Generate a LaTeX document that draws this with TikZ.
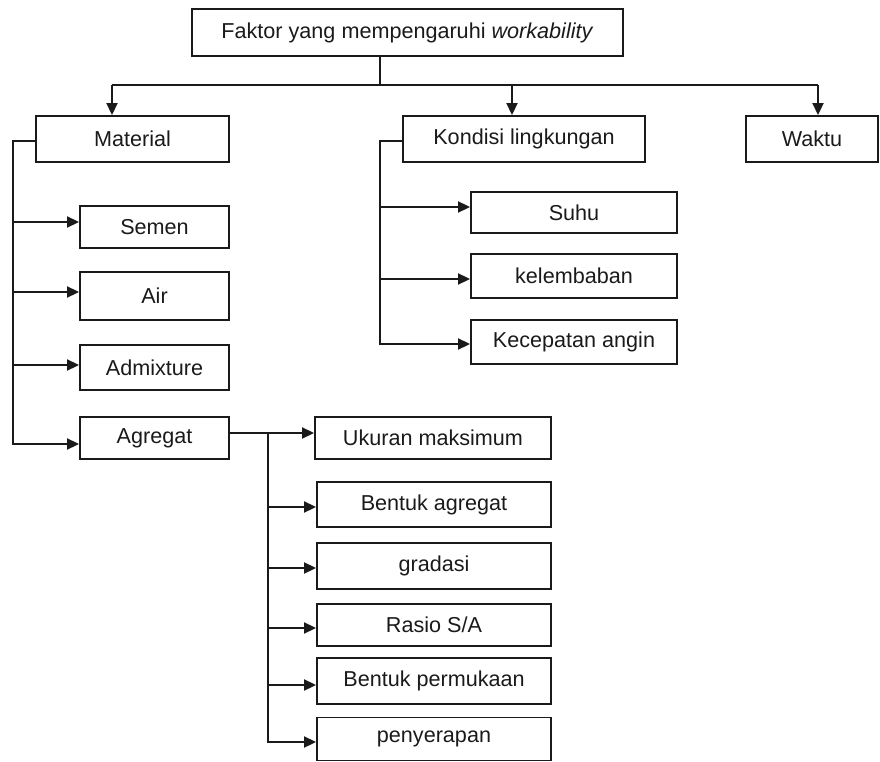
\documentclass[tikz,border=0pt]{standalone}
\usepackage{fontspec}
\setmainfont{Liberation Sans}
\usetikzlibrary{arrows.meta}
\definecolor{ink}{HTML}{1A1A1A}
\begin{document}
\begin{tikzpicture}[x=1pt,y=-1pt,
  box/.style={draw=ink,line width=1.9pt,inner sep=0pt,text=ink,
    font=\fontsize{21.6}{26}\selectfont},
  conn/.style={draw=ink,line width=1.9pt},
  arr/.style={conn,-{Triangle[length=12pt,width=11pt]}}]
\useasboundingbox (0,0) rectangle (880,762);
% boxes
\node[box,minimum width=431pt,minimum height=47pt] (top) at (407.5,32.5) {Faktor yang mempengaruhi \textit{workability}};
\node[box,minimum width=193pt,minimum height=46pt] (mat) at (132.5,139) {Material};
\node[box,minimum width=242pt,minimum height=46pt] (kon) at (524,139) {Kondisi lingkungan};
\node[box,minimum width=132pt,minimum height=46pt] (wak) at (812,139) {Waktu};
\node[box,minimum width=149pt,minimum height=42pt] (sem) at (154.5,227) {Semen};
\node[box,minimum width=149pt,minimum height=48pt] (air) at (154.5,296) {Air};
\node[box,minimum width=149pt,minimum height=45pt] (adm) at (154.5,367.5) {Admixture};
\node[box,minimum width=149pt,minimum height=42pt] (agr) at (154.5,438) {Agregat};
\node[box,minimum width=206pt,minimum height=41pt] (suh) at (574,212.5) {Suhu};
\node[box,minimum width=206pt,minimum height=44pt] (kel) at (574,276) {kelembaban};
\node[box,minimum width=206pt,minimum height=44pt] (kec) at (574,342) {Kecepatan angin};
\node[box,minimum width=236pt,minimum height=42pt] (uk) at (433,438) {Ukuran maksimum};
\node[box,minimum width=234pt,minimum height=45pt] (ba) at (434,504.5) {Bentuk agregat};
\node[box,minimum width=234pt,minimum height=46pt] (gr) at (434,566) {gradasi};
\node[box,minimum width=234pt,minimum height=42pt] (ra) at (434,625) {Rasio S/A};
\node[box,minimum width=234pt,minimum height=46pt] (bp) at (434,681) {Bentuk permukaan};
\node[box,minimum width=234pt,minimum height=43pt] (pe) at (434,739) {penyerapan};
% junction coordinates
\coordinate (t0) at (380,85);
\coordinate (hL) at (112,85);
\coordinate (hK) at (512,85);
\coordinate (hR) at (818,85);
\coordinate (mL) at (13,141);
\coordinate (m1) at (13,222);
\coordinate (m2) at (13,292);
\coordinate (m3) at (13,365);
\coordinate (m4) at (13,444);
\coordinate (kL) at (380,141);
\coordinate (k1) at (380,207);
\coordinate (k2) at (380,279);
\coordinate (k3) at (380,344);
\coordinate (aJ) at (268,433);
\coordinate (a2) at (268,507);
\coordinate (a3) at (268,568);
\coordinate (a4) at (268,628);
\coordinate (a5) at (268,685);
\coordinate (a6) at (268,742);
% top level
\draw[conn] (top.south -| t0) -- (t0);
\draw[conn] (hL) -- (hR);
\draw[arr] (hL) -- (hL |- mat.north);
\draw[arr] (hK) -- (hK |- kon.north);
\draw[arr] (hR) -- (hR |- wak.north);
% material
\draw[arr] (mat.west |- mL) -- (mL) -- (m4) -- (m4 -| agr.west);
\draw[arr] (m1) -- (m1 -| sem.west);
\draw[arr] (m2) -- (m2 -| air.west);
\draw[arr] (m3) -- (m3 -| adm.west);
% kondisi
\draw[arr] (kon.west |- kL) -- (kL) -- (k3) -- (k3 -| kec.west);
\draw[arr] (k1) -- (k1 -| suh.west);
\draw[arr] (k2) -- (k2 -| kel.west);
% agregat
\draw[arr] (agr.east |- aJ) -- (aJ -| uk.west);
\draw[arr] (aJ) -- (a6) -- (a6 -| pe.west);
\draw[arr] (a2) -- (a2 -| ba.west);
\draw[arr] (a3) -- (a3 -| gr.west);
\draw[arr] (a4) -- (a4 -| ra.west);
\draw[arr] (a5) -- (a5 -| bp.west);
\end{tikzpicture}
\end{document}
